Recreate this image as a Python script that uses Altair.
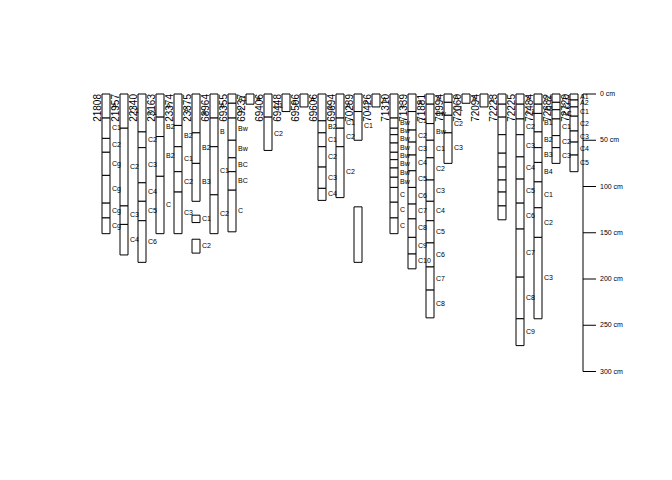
import altair as alt
import pandas as pd

# ---- profile ids (left to right) ----
profile_ids = ["21808", "21957", "22340", "23163", "23374", "23375", "68964",
               "69355", "69237", "69406", "69448", "69506", "69606", "69694",
               "70289", "70426", "71310", "71339", "71881", "71994", "72060",
               "72094", "72223", "72225", "72484", "72682", "72720"]

# ---- horizons per profile: (top cm, bottom cm, name) ----
p21808 = [(0, 26, "A"), (26, 48, "C1"), (48, 63, "C2"), (63, 88, "Cg"),
          (88, 118, "Cg"), (118, 134, "Cg"), (134, 151, "Cg")]
p21957 = [(0, 37, "C1"), (37, 121, "C2"), (121, 141, "C3"), (141, 174, "C4")]
p22340 = [(0, 41, "C1"), (41, 58, "C2"), (58, 96, "C3"), (96, 116, "C4"),
          (116, 137, "C5"), (137, 182, "C6")]
p23163 = [(0, 25, "A"), (25, 46, "B2"), (46, 89, "B2"), (89, 151, "C")]
p23374 = [(0, 34, "A"), (34, 57, "B2"), (57, 84, "C1"), (84, 106, "C2"),
          (106, 151, "C3")]
p23375 = [(0, 42, "A"), (42, 75, "B2"), (75, 116, "B3"), (131, 139, "C1"),
          (157, 172, "C2")]
p68964 = [(0, 26, "A"), (26, 57, "B"), (57, 109, "C1"), (109, 151, "C2")]
p69355 = [(0, 10, "A1"), (10, 26, "A"), (26, 50, "Bw"), (50, 69, "Bw"),
          (69, 84, "BC"), (84, 104, "BC"), (104, 149, "C")]
p69237 = [(0, 11, "A")]
p69406 = [(0, 25, "C1"), (25, 61, "C2")]
p69448 = [(0, 19, "A")]
p69506 = [(0, 14, "A")]
p69606 = [(0, 29, "A"), (29, 42, "B2"), (42, 57, "C1"), (57, 79, "C2"),
          (79, 102, "C3"), (102, 115, "C4")]
p69694 = [(0, 26, "A"), (26, 37, "C1"), (37, 57, "C2"), (57, 112, "C2")]
p70289 = [(0, 19, "A"), (19, 50, "C1"), (122, 182, "")]
p70426 = [(0, 14, "A")]
p71310 = [(0, 26, "A"), (26, 37, "Bw"), (37, 44, "Bw"), (44, 53, "Bw"),
          (53, 63, "Bw"), (63, 71, "Bw"), (71, 80, "Bw"), (80, 90, "Bw"),
          (90, 101, "Bw"), (101, 117, "C"), (117, 134, "C"), (134, 151, "C")]
p71339 = [(0, 19, "A"), (19, 39, "C1"), (39, 52, "C2"), (52, 66, "C3"),
          (66, 83, "C4"), (83, 101, "C5"), (101, 119, "C6"), (119, 135, "C7"),
          (135, 155, "C8"), (155, 173, "C9"), (173, 189, "C10")]
p71881 = [(0, 11, "A"), (11, 32, "Bw"), (32, 50, "Bw"), (50, 69, "C1"),
          (69, 93, "C2"), (93, 116, "C3"), (116, 137, "C4"), (137, 161, "C5"),
          (161, 187, "C6"), (187, 212, "C7"), (212, 242, "C8")]
p71994 = [(0, 9, "A"), (9, 23, "C1"), (23, 42, "C2"), (42, 75, "C3")]
p72060 = [(0, 10, "A")]
p72094 = [(0, 14, "A")]
p72223 = [(0, 11, ""), (11, 25, ""), (25, 44, ""), (44, 64, ""), (64, 79, ""),
          (79, 93, ""), (93, 106, ""), (106, 121, ""), (121, 136, "")]
p72225 = [(0, 11, "A"), (11, 27, "C1"), (27, 44, "C2"), (44, 68, "C3"),
          (68, 92, "C4"), (92, 118, "C5"), (118, 146, "C6"), (146, 198, "C7"),
          (198, 243, "C8"), (243, 272, "C9")]
p72484 = [(0, 11, "A1"), (11, 21, "A2"), (21, 41, "B1"), (41, 58, "B2"),
          (58, 74, "B3"), (74, 95, "B4"), (95, 123, "C1"), (123, 155, "C2"),
          (155, 243, "C3")]
p72682 = [(0, 9, "A1"), (9, 17, "A2"), (17, 27, "AC"), (27, 45, "C1"),
          (45, 58, "C2"), (58, 75, "C3")]
p72720 = [(0, 6.5, "A1"), (6.5, 14, "A2"), (14, 24, "C1"), (24, 40, "C2"),
          (40, 52, "C3"), (52, 66, "C4"), (66, 84, "C5")]

profiles = [p21808, p21957, p22340, p23163, p23374, p23375, p68964, p69355,
            p69237, p69406, p69448, p69506, p69606, p69694, p70289, p70426,
            p71310, p71339, p71881, p71994, p72060, p72094, p72223, p72225,
            p72484, p72682, p72720]

depth_ticks = [0, 50, 100, 150, 200, 250, 300]

# ---- build tables ----
COLW = 8 / 18.0  # column width in profile-index units
rows = []
for i, hz in enumerate(profiles):
    for top, bot, name in hz:
        rows.append({"idx": i, "x0": i, "x1": i + COLW,
                     "xl": i + COLW + 2 / 18.0,
                     "top": top, "bottom": bot, "mid": (top + bot) / 2.0,
                     "name": name})
hz_df = pd.DataFrame(rows)
id_df = pd.DataFrame({"xid": [i - 1 / 18.0 for i in range(len(profile_ids))],
                      "d": [0] * len(profile_ids), "id": profile_ids})
tick_df = pd.DataFrame({"d": depth_ticks,
                        "lab": [f"{d} cm" for d in depth_ticks]})
axis_df = pd.DataFrame({"d0": [0], "d1": [300]})

xs = alt.Scale(domain=[0, 26], range=[102, 570], zero=False, nice=False)
ys = alt.Scale(domain=[0, 300], range=[94, 371.5], zero=False, nice=False)
FONT = "Liberation Sans"

rects = alt.Chart(hz_df).mark_rect(fill="white", stroke="black",
                                   strokeWidth=1).encode(
    x=alt.X("x0:Q", scale=xs, axis=None),
    x2="x1:Q",
    y=alt.Y("top:Q", scale=ys, axis=None),
    y2="bottom:Q",
)

hz_text = alt.Chart(hz_df).mark_text(align="left", baseline="middle",
                                     fontSize=7, font=FONT,
                                     color="black").encode(
    x=alt.X("xl:Q", scale=xs, axis=None),
    y=alt.Y("mid:Q", scale=ys, axis=None),
    text="name:N",
)

id_text = alt.Chart(id_df).mark_text(angle=270, align="right",
                                     baseline="alphabetic", fontSize=10,
                                     font=FONT, color="black").encode(
    x=alt.X("xid:Q", scale=xs, axis=None),
    y=alt.Y("d:Q", scale=ys, axis=None),
    text="id:N",
)

axis_line = alt.Chart(axis_df).mark_rule(color="black", strokeWidth=1).encode(
    x=alt.value(583),
    y=alt.Y("d0:Q", scale=ys, axis=None),
    y2="d1:Q",
)

ticks = alt.Chart(tick_df).mark_rule(color="black", strokeWidth=1).encode(
    x=alt.value(583), x2=alt.value(596),
    y=alt.Y("d:Q", scale=ys, axis=None),
)

tick_labels = alt.Chart(tick_df).mark_text(align="left", baseline="middle",
                                           fontSize=7, font=FONT,
                                           color="black").encode(
    x=alt.value(600),
    y=alt.Y("d:Q", scale=ys, axis=None),
    text="lab:N",
)

chart = alt.layer(rects, hz_text, id_text, axis_line, ticks,
                  tick_labels).properties(
    width=672, height=480,
    autosize=alt.AutoSizeParams(type="none"),
    padding=0,
    background="white",
).configure_view(stroke="transparent", strokeWidth=0)

chart.save("out.html", embed_options={"renderer": "svg", "actions": False})
